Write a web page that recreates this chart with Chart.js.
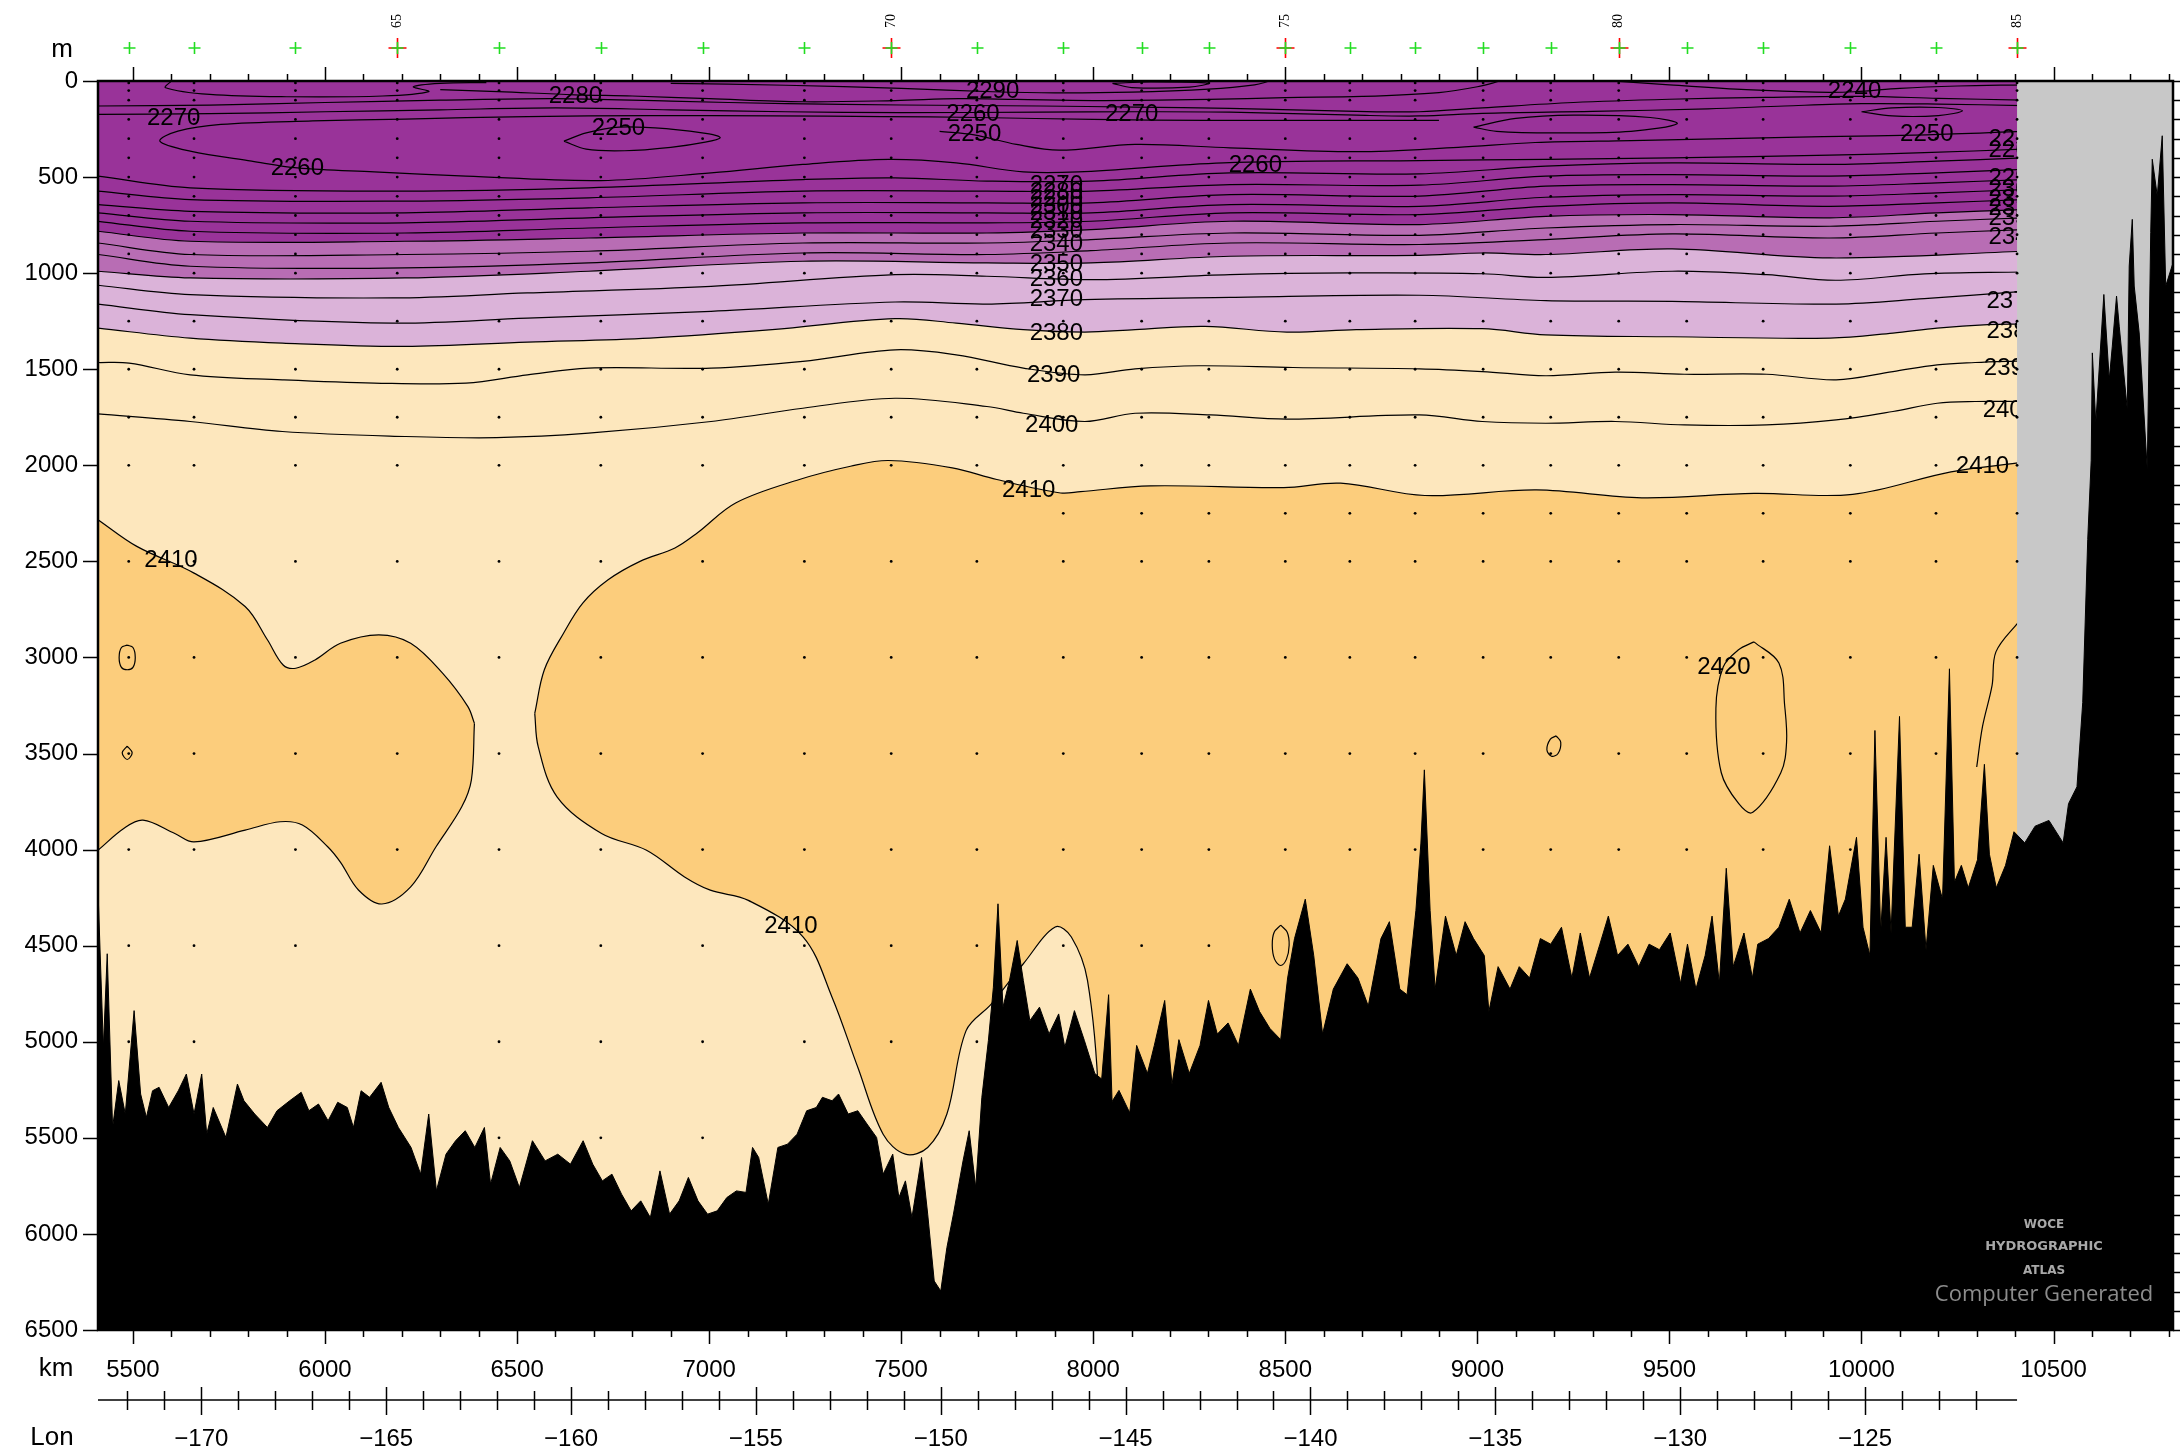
<!DOCTYPE html>
<html>
<head>
<meta charset="utf-8">
<script src="https://cdn.jsdelivr.net/npm/chart.js@4.4.1/dist/chart.umd.min.js"></script>
<style>
  html, body { margin: 0; padding: 0; background: #fff; }
  canvas { display: block; }
</style>
</head>
<body>
<canvas id="section" width="2180" height="1453"></canvas>
<script>
// section data: x = distance (km), y = depth (m)
var kmTicks = [5500, 6000, 6500, 7000, 7500, 8000, 8500, 9000, 9500, 10000, 10500];
var lonTicks = [-170, -165, -160, -155, -150, -145, -140, -135, -130, -125];
var depthTicks = [0, 500, 1000, 1500, 2000, 2500, 3000, 3500, 4000, 4500, 5000, 5500, 6000, 6500];

var stationNum = [62, 63, 64, 65, 66, 67, 68, 69, 70, 71, 72, 73, 74, 75, 76, 77, 78, 79, 80, 81, 82, 83, 84, 85];
var stationKm = [5489, 5659, 5923, 6188, 6453, 6718, 6983, 7248, 7474, 7697, 7922, 8126, 8301, 8500, 8668, 8838, 9015, 9191, 9368, 9545, 9744, 9971, 10194, 10405];
var stationMaxDepth = [5000, 5000, 4500, 4000, 5500, 5500, 5500, 5000, 5000, 5000, 4500, 4500, 4500, 4000, 4000, 4000, 4000, 4000, 4000, 4000, 4000, 4000, 3500, 3500];
var sampleDepths = [10, 50, 100, 200, 300, 400, 500, 600, 700, 800, 900, 1000, 1250, 1500, 1750, 2000, 2250, 2500, 3000, 3500, 4000, 4500, 5000, 5500];

// contours (alkalinity, umol/kg)
var c2270top = [[5409,130],[5700,126],[6000,112],[6300,100],[6600,92],[6900,105],[7200,118],[7500,125],[7862,130],[8109,136],[8356,142],[8685,158],[8849,160],[9013,140],[9250,112],[9500,95],[9750,85],[10000,80],[10200,90],[10420,100]];
var c2270mid = [[5409,174],[5700,170],[6000,160],[6300,150],[6600,140],[6900,150],[7200,160],[7500,165],[7862,162],[8109,160],[8356,162],[8685,178],[8849,182],[9013,168],[9300,158],[9600,145],[9800,130],[10000,118],[10200,120],[10420,128]];
var c2260 = [[10420,355],[10164,373],[9918,386],[9507,400],[9178,408],[8849,414],[8339,426],[7961,473],[7818,473],[7643,426],[7468,408],[7244,434],[7005,478],[6718,518],[6367,495],[6128,473],[5928,452],[5809,417],[5649,365],[5570,313],[5617,261],[5729,226],[5968,208],[6208,198],[6527,185],[6846,180],[7164,182],[7450,185],[7700,190],[8000,200],[8300,205],[8600,205],[8900,205]];
var c2250a = [[6622,313],[6680,270],[6766,240],[6900,250],[7000,275],[7029,295],[6990,318],[6900,345],[6780,363],[6680,355],[6622,313]];
var c2250b = [[7600,262],[7690,280],[7800,330],[7911,360],[8109,330],[8356,348],[8685,368],[8950,345],[9150,320],[9400,310],[9650,300],[9900,290],[10170,280],[10420,262]];
var c2250c = [[8990,240],[9100,195],[9250,178],[9450,190],[9520,222],[9400,262],[9200,270],[9050,262],[8990,240]];
var c2250d = [[10000,160],[10080,140],[10200,138],[10263,155],[10200,180],[10080,182],[10000,160]];
var cSurf1 = [[5600,0],[5585,35],[5700,70],[5900,82],[6150,78],[6270,55],[6230,30],[6300,12],[6420,8]];
var c2280s = [[6300,45],[6450,55],[6650,72],[6800,78],[7000,92],[7244,108],[7484,102],[7650,92],[7800,96],[8000,102],[8300,96],[8500,86],[8700,80],[8900,60],[9000,30],[9060,0]];
var c2290s = [[6900,12],[7200,22],[7500,38],[7738,56],[7900,62],[8100,58],[8300,42],[8420,20],[8460,0]];
var c2240s = [[9350,0],[9500,20],[9700,45],[9880,58],[9982,56],[10100,38],[10250,26],[10420,20]];
var cSurf2 = [[8050,12],[8150,5],[8300,12],[8250,32],[8100,34],[8050,12]];

var c2270 = [[5409,495],[5649,556],[6208,573],[6686,556],[7244,513],[7484,504],[7723,521],[7994,521],[8356,478],[8849,483],[9178,443],[9507,426],[9918,434],[10197,417],[10420,400]];
var c2280 = [[5409,573],[5649,617],[6208,625],[6686,608],[7244,573],[7723,573],[7994,573],[8356,539],[8849,542],[9178,495],[9507,487],[9918,495],[10197,478],[10420,460]];
var c2290 = [[5409,643],[5649,678],[6208,686],[6686,660],[7244,634],[7723,634],[7994,634],[8356,591],[8849,599],[9178,547],[9507,539],[9918,547],[10197,530],[10420,513]];
var c2300 = [[5409,686],[5649,730],[6208,738],[6686,712],[7244,686],[7723,686],[7994,686],[8356,643],[8849,652],[9178,605],[9507,591],[9918,599],[10197,582],[10420,565]];
var c2310 = [[5409,730],[5649,782],[6208,791],[6686,765],[7244,738],[7723,738],[7994,730],[8356,686],[8849,695],[9178,652],[9507,634],[9918,652],[10197,634],[10420,617]];
var c2320 = [[5409,782],[5649,834],[6208,834],[6686,817],[7244,791],[7723,791],[7994,773],[8356,730],[8849,747],[9178,704],[9507,695],[9918,712],[10197,686],[10420,669]];
var c2330 = [[5409,843],[5649,903],[6208,903],[6686,886],[7244,843],[7723,843],[7994,825],[8356,791],[8849,803],[9178,765],[9507,747],[9918,756],[10197,730],[10420,712]];
var c2340 = [[5409,903],[5649,964],[6208,973],[6686,947],[7244,895],[7723,903],[7994,883],[8356,843],[8849,851],[9178,825],[9507,796],[9918,817],[10197,791],[10420,773]];
var c2350 = [[5409,990],[5649,1025],[6208,1025],[6686,990],[7244,938],[7723,947],[7994,947],[8356,912],[8849,907],[9013,895],[9178,903],[9507,874],[9918,921],[10420,886]];
var c2360 = [[5409,1063],[5649,1112],[6176,1129],[6527,1103],[7005,1069],[7484,1008],[7723,1016],[7994,1034],[8356,1008],[8668,999],[9013,1003],[9178,1022],[9507,990],[9753,1008],[9934,1037],[10164,1004],[10420,994]];
var c2370 = [[5409,1161],[5649,1216],[6176,1260],[6527,1234],[7005,1199],[7484,1150],[7723,1161],[7978,1138],[8356,1126],[8849,1115],[9178,1143],[9507,1147],[9934,1161],[10164,1133],[10420,1095]];
var c2380 = [[5409,1286],[5649,1338],[5889,1364],[6208,1381],[6527,1359],[6846,1338],[7164,1294],[7484,1237],[7643,1260],[7818,1294],[7978,1307],[8109,1294],[8290,1277],[8504,1307],[8685,1294],[9013,1289],[9178,1321],[9507,1331],[9918,1338],[10082,1312],[10197,1286],[10329,1268],[10420,1265]];
var c2390 = [[5409,1465],[5490,1468],[5649,1529],[5889,1555],[6128,1572],[6367,1572],[6527,1529],[6686,1494],[7005,1494],[7244,1459],[7484,1399],[7643,1425],[7818,1494],[7978,1529],[8109,1498],[8274,1482],[8520,1491],[8849,1498],[9013,1512],[9178,1534],[9359,1515],[9539,1526],[9753,1526],[9934,1555],[10082,1512],[10197,1477],[10296,1465],[10420,1456]];
var c2400 = [[5409,1732],[5649,1772],[5889,1824],[6208,1850],[6447,1856],[6686,1833],[7005,1772],[7244,1703],[7484,1651],[7723,1694],[7818,1729],[7978,1772],[8109,1729],[8306,1738],[8504,1760],[8849,1738],[9013,1772],[9178,1781],[9359,1772],[9539,1790],[9753,1790],[9934,1764],[10082,1720],[10197,1677],[10296,1668],[10420,1668]];

var c2410blobTop = [[5400,2270],[5409,2283],[5510,2422],[5659,2561],[5792,2735],[5850,2908],[5891,3039],[5924,3056],[5974,3013],[6040,2926],[6140,2882],[6223,2926],[6306,3082],[6372,3256],[6389,3343]];
var c2410blobBottom = [[5400,4015],[5409,4003],[5476,3890],[5526,3847],[5609,3916],[5659,3960],[5792,3899],[5883,3855],[5941,3872],[6007,3985],[6040,4065],[6087,4210],[6148,4283],[6223,4194],[6289,3985],[6356,3777],[6381,3638],[6389,3343]];
var c2410mainTop = [[6546,3291],[6571,3064],[6621,2874],[6671,2717],[6737,2596],[6820,2500],[6911,2430],[6969,2352],[7069,2196],[7235,2074],[7368,2005],[7467,1975],[7633,2013],[7749,2074],[7915,2144],[7967,2137],[8149,2107],[8496,2116],[8644,2093],[8863,2157],[9154,2128],[9428,2169],[9720,2146],[9977,2151],[10233,2034],[10420,1985]];
var c2410mainBottom = [[6546,3291],[6555,3464],[6604,3725],[6720,3916],[6837,4003],[6936,4142],[7003,4211],[7102,4264],[7245,4455],[7320,4768],[7387,5133],[7453,5481],[7511,5585],[7569,5550],[7619,5376],[7669,4942],[7735,4803],[7818,4594],[7901,4403],[7943,4455],[7985,4681],[8014,5307],[8020,6500],[10420,6500]];
var c2410small1 = [[5485,2936],[5500,2948],[5506,3000],[5500,3052],[5485,3064],[5470,3052],[5464,3000],[5470,2948],[5485,2936]];
var c2410small2 = [[5485,3461],[5498,3496],[5485,3531],[5472,3496],[5485,3461]];
var c2410small3 = [[9205,3408],[9217,3440],[9210,3500],[9193,3514],[9181,3480],[9190,3425],[9205,3408]];
var c2410small4 = [[8488,4393],[8505,4430],[8510,4498],[8503,4570],[8488,4603],[8472,4570],[8466,4498],[8471,4430],[8488,4393]];
var c2420 = [[9720,2919],[9785,3029],[9800,3250],[9805,3440],[9790,3600],[9717,3806],[9680,3760],[9635,3600],[9621,3264],[9640,3050],[9680,2960],[9720,2919]];
var c2420east = [[10420,2800],[10405,2825],[10350,2971],[10340,3145],[10315,3360],[10300,3570]];

var contourLabels = [
  ['2270', 5606, 194], ['2280', 6652, 78], ['2250', 6764, 244], ['2260', 5928, 454],
  ['2290', 7738, 56], ['2260', 7687, 172], ['2250', 7691, 280], ['2270', 8100, 172],
  ['2260', 8422, 439], ['2240', 9982, 56], ['2250', 10170, 280],
  ['2270', 7904, 541], ['2280', 7904, 578], ['2290', 7904, 615], ['2300', 7904, 652],
  ['2310', 7904, 690], ['2320', 7904, 728], ['2330', 7904, 780], ['2340', 7904, 850],
  ['2350', 7904, 953], ['2360', 7904, 1033], ['2370', 7904, 1134], ['2380', 7904, 1315],
  ['2390', 7897, 1532], ['2400', 7892, 1792], ['2410', 7832, 2133],
  ['2410', 5599, 2494], ['2410', 7213, 4398], ['2410', 10315, 2003], ['2420', 9642, 3052],
  ['2250', 10400, 302], ['2260', 10400, 360], ['2290', 10400, 505], ['2300', 10400, 563],
  ['2310', 10400, 614], ['2320', 10400, 664], ['2330', 10400, 715], ['2340', 10400, 816],
  ['2370', 10395, 1149], ['2380', 10395, 1301], ['2390', 10388, 1496], ['2400', 10385, 1713]
];

var bathymetry = [[5409,4212],[5423,5029],[5433,4542],[5447,5446],[5463,5202],[5480,5376],[5503,4838],[5520,5272],[5535,5394],[5551,5255],[5568,5237],[5593,5342],[5618,5255],[5639,5168],[5659,5376],[5679,5168],[5692,5481],[5709,5342],[5742,5498],[5759,5342],[5772,5220],[5789,5307],[5817,5376],[5850,5446],[5875,5359],[5908,5307],[5938,5263],[5958,5359],[5983,5324],[6008,5411],[6033,5315],[6058,5342],[6074,5446],[6094,5255],[6116,5289],[6146,5211],[6166,5342],[6191,5446],[6224,5550],[6249,5689],[6270,5376],[6290,5776],[6315,5585],[6340,5515],[6365,5463],[6390,5550],[6415,5446],[6431,5741],[6456,5550],[6481,5620],[6506,5759],[6540,5515],[6573,5620],[6606,5585],[6639,5637],[6672,5515],[6697,5637],[6722,5724],[6747,5689],[6772,5793],[6797,5880],[6822,5828],[6847,5915],[6872,5672],[6897,5897],[6922,5828],[6946,5706],[6971,5828],[6996,5897],[7021,5880],[7046,5811],[7071,5776],[7096,5784],[7113,5550],[7129,5602],[7154,5845],[7179,5550],[7204,5533],[7229,5481],[7254,5359],[7279,5342],[7295,5289],[7320,5307],[7337,5272],[7362,5376],[7387,5359],[7411,5428],[7436,5498],[7453,5689],[7478,5585],[7494,5811],[7511,5724],[7528,5915],[7553,5602],[7569,5897],[7586,6245],[7603,6297],[7619,6071],[7636,5897],[7661,5620],[7677,5463],[7694,5759],[7710,5289],[7727,4994],[7740,4716],[7752,4282],[7765,4820],[7782,4681],[7802,4473],[7818,4681],[7835,4890],[7860,4820],[7885,4959],[7910,4855],[7926,5029],[7951,4838],[7977,4994],[8004,5165],[8022,5194],[8040,4755],[8049,5311],[8067,5253],[8095,5370],[8113,5019],[8141,5165],[8159,5019],[8186,4785],[8205,5223],[8223,4989],[8250,5165],[8278,5019],[8300,4785],[8323,4960],[8351,4902],[8378,5019],[8409,4726],[8433,4843],[8460,4931],[8488,4989],[8506,4668],[8524,4463],[8552,4258],[8574,4551],[8597,4960],[8625,4726],[8661,4594],[8689,4668],[8716,4814],[8749,4463],[8771,4375],[8798,4726],[8817,4755],[8840,4317],[8853,3966],[8862,3585],[8877,4317],[8890,4726],[8917,4346],[8945,4551],[8968,4375],[8990,4463],[9018,4551],[9030,4843],[9054,4609],[9085,4726],[9109,4609],[9136,4668],[9164,4463],[9191,4492],[9219,4404],[9246,4668],[9268,4434],[9292,4668],[9319,4492],[9341,4346],[9365,4551],[9392,4492],[9420,4609],[9447,4492],[9474,4521],[9502,4434],[9529,4697],[9547,4492],[9569,4726],[9593,4551],[9611,4346],[9630,4697],[9648,4097],[9666,4609],[9694,4434],[9716,4668],[9730,4492],[9758,4463],[9785,4404],[9812,4258],[9840,4434],[9867,4317],[9895,4434],[9917,3980],[9940,4346],[9958,4258],[9987,3936],[10004,4404],[10022,4551],[10035,3380],[10050,4434],[10064,3936],[10077,4434],[10099,3307],[10114,4404],[10132,4404],[10150,4024],[10168,4521],[10187,4082],[10211,4258],[10229,3059],[10242,4170],[10260,4082],[10278,4199],[10302,4053],[10320,3556],[10333,4024],[10351,4199],[10375,4082],[10397,3907],[10425,3965],[10452,3878],[10488,3848],[10525,3965],[10539,3761],[10561,3673],[10576,3234],[10589,2386],[10598,1976],[10601,1415],[10610,1780],[10631,1111],[10645,1554],[10653,1380],[10664,1119],[10671,1276],[10692,1710],[10697,963],[10705,720],[10710,1067],[10723,1311],[10744,2023],[10753,789],[10757,407],[10770,598],[10783,285],[10792,1067],[10814,928]];

var landMaskKm = 10405;
var kmMin = 5409, kmMax = 10811;
var lonMin = -172.795, lonMax = -116.67;

function pts(arr) {
  return arr.map(function (p) { return { x: p[0], y: p[1] }; });
}

function line(arr, extra) {
  var ds = {
    data: pts(arr),
    showLine: true,
    borderColor: '#000',
    borderWidth: 1.2,
    pointRadius: 0,
    tension: 0.35,
    fill: false
  };
  return Object.assign(ds, extra || {});
}

var sampleDots = [];
stationKm.forEach(function (km, i) {
  sampleDepths.forEach(function (d) {
    if (d > stationMaxDepth[i]) return;
    if (d === 2250 && stationNum[i] < 72) return;
    sampleDots.push({ x: km, y: d });
  });
});

var toBottom = { value: 6500 };

var datasets = [
  // background bands, deepest last
  line([[kmMin, 0], [kmMax, 0]], { borderWidth: 0, tension: 0, fill: toBottom, backgroundColor: '#993399' }),
  line(c2320, { fill: toBottom, backgroundColor: '#b86db4' }),
  line(c2350, { fill: toBottom, backgroundColor: '#dbb3d9' }),
  line(c2380, { fill: toBottom, backgroundColor: '#fde7bd' }),
  line(c2410blobTop, { fill: '+1', backgroundColor: '#fccd7c' }),
  line(c2410blobBottom),
  line(c2410mainTop, { fill: '+1', backgroundColor: '#fccd7c' }),
  line(c2410mainBottom),
  // plain contour lines
  line(c2270top), line(c2270mid), line(c2260), line(c2250a), line(c2250b), line(c2250c), line(c2250d),
  line(cSurf1), line(c2280s), line(c2290s), line(c2240s), line(cSurf2),
  line(c2270), line(c2280), line(c2290), line(c2300), line(c2310), line(c2330), line(c2340),
  line(c2360), line(c2370), line(c2390), line(c2400),
  line(c2410small1), line(c2410small2), line(c2410small3), line(c2410small4),
  line(c2420), line(c2420east),
  // land mask beyond the last station
  line([[landMaskKm, 0], [kmMax + 20, 0]], { borderWidth: 0, tension: 0, fill: toBottom, backgroundColor: '#c8c8c8' }),
  // bottle samples
  { data: sampleDots, showLine: false, pointRadius: 1.4, pointBackgroundColor: '#000', pointBorderWidth: 0 },
  // bottom topography
  line(bathymetry, { tension: 0, borderWidth: 1, fill: toBottom, backgroundColor: '#000' })
];
datasets.forEach(function (ds, i) { ds.order = datasets.length - i; });

var axisFont = { family: '"Liberation Sans", Arial, sans-serif', size: 24 };

var sectionDecor = {
  id: 'sectionDecor',
  afterDatasetsDraw: function (chart) {
    var ctx = chart.ctx, a = chart.chartArea, x = chart.scales.x, y = chart.scales.y;
    ctx.save();
    ctx.beginPath();
    ctx.rect(a.left, a.top, x.getPixelForValue(landMaskKm) - a.left, a.bottom - a.top);
    ctx.clip();
    ctx.font = '24px "Liberation Sans", Arial, sans-serif';
    ctx.fillStyle = '#000';
    ctx.textAlign = 'center';
    ctx.textBaseline = 'middle';
    contourLabels.forEach(function (l) {
      ctx.fillText(l[0], x.getPixelForValue(l[1]), y.getPixelForValue(l[2]));
    });
    ctx.restore();
  },
  afterDraw: function (chart) {
    var ctx = chart.ctx, a = chart.chartArea, x = chart.scales.x, y = chart.scales.y, lon = chart.scales.lon;
    var v, px, py, len;
    ctx.save();
    ctx.strokeStyle = '#000';
    ctx.lineWidth = 1.5;
    // km ticks, top and bottom
    for (v = 5500; v <= 10800; v += 100) {
      px = Math.round(x.getPixelForValue(v)) + 0.5;
      len = v % 500 === 0 ? 14 : 7;
      ctx.beginPath();
      ctx.moveTo(px, a.bottom); ctx.lineTo(px, a.bottom + len);
      ctx.moveTo(px, a.top); ctx.lineTo(px, a.top - len);
      ctx.stroke();
    }
    // depth ticks: labelled ones on the left, every 100 m on the right
    for (v = 0; v <= 6500; v += 100) {
      py = Math.round(y.getPixelForValue(v)) + 0.5;
      ctx.beginPath();
      if (v % 500 === 0) { ctx.moveTo(a.left, py); ctx.lineTo(a.left - 15, py); }
      ctx.moveTo(a.right, py); ctx.lineTo(a.right + 7, py);
      ctx.stroke();
    }
    // frame
    ctx.lineWidth = 2.5;
    ctx.strokeRect(a.left, a.top, a.right - a.left, a.bottom - a.top);

    // longitude axis
    var lonY = lon.top;
    ctx.lineWidth = 1.5;
    ctx.beginPath();
    ctx.moveTo(lon.getPixelForValue(lonMin), lonY);
    ctx.lineTo(x.getPixelForValue(landMaskKm), lonY);
    ctx.stroke();
    for (v = -172; v <= -122; v += 1) {
      px = Math.round(lon.getPixelForValue(v)) + 0.5;
      var major = v % 5 === 0;
      ctx.beginPath();
      ctx.moveTo(px, lonY - (major ? 13 : 9));
      ctx.lineTo(px, lonY + (major ? 15 : 10));
      ctx.stroke();
    }

    // station positions above the frame: red for every fifth, green for all
    var crossPy = 48;
    stationKm.forEach(function (km, i) {
      var sx = Math.round(x.getPixelForValue(km)) + 0.5;
      if (stationNum[i] % 5 === 0) {
        ctx.strokeStyle = '#ff0000';
        ctx.lineWidth = 1.6;
        ctx.beginPath();
        ctx.moveTo(sx - 9, crossPy); ctx.lineTo(sx + 9, crossPy);
        ctx.moveTo(sx, crossPy - 10); ctx.lineTo(sx, crossPy + 10);
        ctx.stroke();
      }
      ctx.strokeStyle = '#22dd22';
      ctx.lineWidth = 1.6;
      ctx.beginPath();
      ctx.moveTo(sx - 6, crossPy); ctx.lineTo(sx + 6, crossPy);
      ctx.moveTo(sx, crossPy - 6); ctx.lineTo(sx, crossPy + 6);
      ctx.stroke();
    });

    // axis titles
    ctx.fillStyle = '#000';
    ctx.font = '26px "Liberation Sans", Arial, sans-serif';
    ctx.textAlign = 'center';
    ctx.textBaseline = 'middle';
    ctx.fillText('m', 62, 50);
    ctx.fillText('km', 56, 1369);
    ctx.fillText('Lon', 52, 1438);

    // station numbers
    ctx.font = '14px "Liberation Serif", "DejaVu Serif", serif';
    stationKm.forEach(function (km, i) {
      if (stationNum[i] % 5 !== 0) return;
      ctx.save();
      ctx.translate(x.getPixelForValue(km), 21);
      ctx.rotate(-Math.PI / 2);
      ctx.fillText(String(stationNum[i]), 0, 0);
      ctx.restore();
    });

    // atlas stamp
    ctx.fillStyle = '#a8a8a8';
    ctx.font = 'bold 12px "DejaVu Sans", sans-serif';
    ctx.fillText('WOCE', 2044, 1225);
    ctx.font = 'bold 13px "DejaVu Sans", sans-serif';
    ctx.fillText('HYDROGRAPHIC', 2044, 1247);
    ctx.font = 'bold 12px "DejaVu Sans", sans-serif';
    ctx.fillText('ATLAS', 2044, 1271);
    ctx.fillStyle = '#8c8c8c';
    ctx.font = '22px "Open Sans", sans-serif';
    ctx.fillText('Computer Generated', 2044, 1295);
    ctx.restore();
  }
};

var ctx = document.getElementById('section').getContext('2d');
var chart = new Chart(ctx, {
  type: 'scatter',
  data: { datasets: datasets },
  options: {
    responsive: false,
    animation: false,
    devicePixelRatio: 1,
    events: [],
    layout: { padding: { top: 81, right: 7, left: 0, bottom: 0 } },
    plugins: { legend: { display: false }, tooltip: { enabled: false } },
    scales: {
      x: {
        type: 'linear', position: 'bottom', min: kmMin, max: kmMax, weight: 0,
        grid: { display: false, drawTicks: false }, border: { display: false },
        afterBuildTicks: function (s) { s.ticks = kmTicks.map(function (v) { return { value: v }; }); },
        afterFit: function (s) { s.height = 70; },
        ticks: { autoSkip: false, maxRotation: 0, padding: 26, color: '#000', font: axisFont,
          callback: function (v) { return String(v); } }
      },
      lon: {
        type: 'linear', axis: 'x', position: 'bottom', min: lonMin, max: lonMax, weight: 1,
        grid: { display: false, drawTicks: false }, border: { display: false },
        afterBuildTicks: function (s) { s.ticks = lonTicks.map(function (v) { return { value: v }; }); },
        afterFit: function (s) { s.height = 53; },
        ticks: { autoSkip: false, maxRotation: 0, padding: 25, color: '#000', font: axisFont,
          callback: function (v) { return '\u2212' + Math.abs(v); } }
      },
      y: {
        type: 'linear', reverse: true, min: 0, max: 6500,
        grid: { display: false, drawTicks: false }, border: { display: false },
        afterBuildTicks: function (s) { s.ticks = depthTicks.map(function (v) { return { value: v }; }); },
        afterFit: function (s) { s.width = 98; },
        ticks: { autoSkip: false, padding: 20, color: '#000', font: axisFont,
          callback: function (v) { return String(v); } }
      }
    }
  },
  plugins: [sectionDecor]
});
</script>
</body>
</html>
